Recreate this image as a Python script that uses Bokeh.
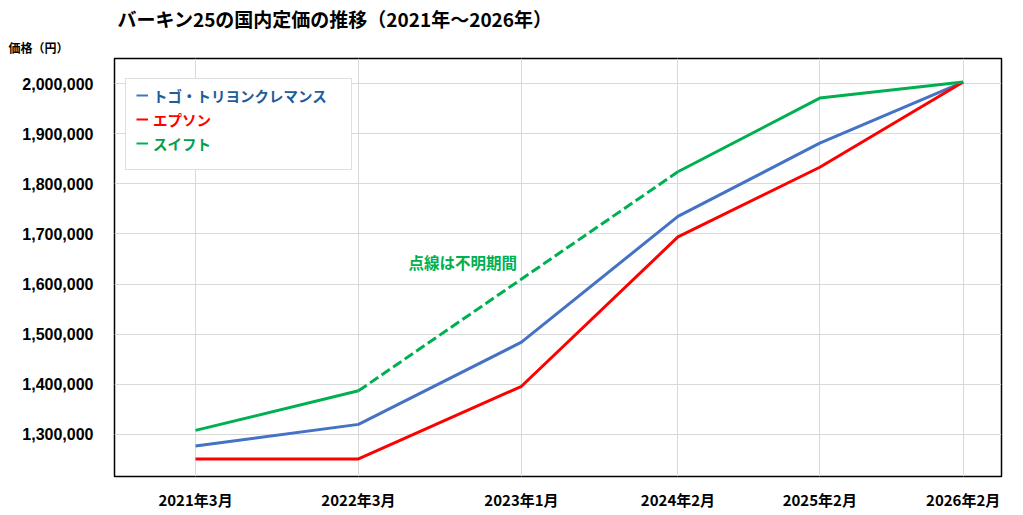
import math
from bokeh.plotting import figure
from bokeh.models import (FixedTicker, NumeralTickFormatter, Legend, LegendItem,
                          Label, Title, Range1d)
from bokeh.embed import file_html
from bokeh.resources import INLINE

# ---------------- data ----------------
periods = ["2021年3月", "2022年3月", "2023年1月", "2024年2月", "2025年2月", "2026年2月"]
period_pos = [0.0, 1.0, 2.0, 2.96, 3.83, 4.71]
togo = [1277000, 1320000, 1484000, 1735000, 1881000, 2003000]
epsom = [1251000, 1251000, 1396000, 1694000, 1833000, 2003000]
swift = [1308000, 1387000, None, 1824000, 1971000, 2003000]
series_names = ["トゴ・トリヨンクレマンス", "エプソン", "スイフト"]
y_ticks = [1300000, 1400000, 1500000, 1600000, 1700000, 1800000, 1900000, 2000000]
title_text = "バーキン25の国内定価の推移（2021年～2026年）"
y_label_text = "価格（円）"
note_text = "点線は不明期間"

JP = "Noto Sans CJK JP"
C_TOGO, C_EPSOM, C_SWIFT = "#4472C4", "#FF0000", "#00B050"

p = figure(width=1023, height=515, output_backend="svg", toolbar_location=None,
           x_range=Range1d(-0.497, 4.945), y_range=Range1d(1216000, 2050000),
           min_border_left=114, min_border_right=22, min_border_bottom=39,
           min_border_top=0)
p.background_fill_color = "white"
p.border_fill_color = "white"
p.outline_line_color = "black"
p.outline_line_width = 1.5

# titles (first added sits closest to the frame)
p.add_layout(Title(text=y_label_text, align="left", offset=-106, standoff=5,
                   text_font=JP, text_font_size="12px", text_font_style="bold",
                   text_color="black"), "above")
p.add_layout(Title(text=title_text, align="left", offset=3, standoff=5,
                   text_font=JP, text_font_size="19px", text_font_style="bold",
                   text_color="black"), "above")

# grid
p.xgrid.ticker = FixedTicker(ticks=period_pos)
p.ygrid.ticker = FixedTicker(ticks=y_ticks)
p.xgrid.grid_line_color = "#D9D9D9"
p.ygrid.grid_line_color = "#D9D9D9"

# axes
xa = p.xaxis[0]
xa.ticker = FixedTicker(ticks=period_pos)
xa.major_label_overrides = {pos: lab for pos, lab in zip(period_pos, periods)}
xa.axis_line_color = None
xa.major_tick_out = 0
xa.major_tick_in = 0
xa.minor_tick_out = 0
xa.minor_tick_in = 0
xa.major_label_standoff = 12
xa.major_label_text_font = JP
xa.major_label_text_font_size = "15px"
xa.major_label_text_font_style = "bold"
xa.major_label_text_color = "black"

ya = p.yaxis[0]
ya.ticker = FixedTicker(ticks=y_ticks)
ya.formatter = NumeralTickFormatter(format="0,0")
ya.axis_line_color = None
ya.major_tick_out = 0
ya.major_tick_in = 0
ya.minor_tick_out = 0
ya.minor_tick_in = 0
ya.major_label_standoff = 21
ya.major_label_text_font = "Liberation Sans"
ya.major_label_text_font_size = "16px"
ya.major_label_text_font_style = "bold"
ya.major_label_text_color = "black"

# lines
r_togo = p.line(period_pos, togo, line_color=C_TOGO, line_width=3, line_join="round")
r_epsom = p.line(period_pos, epsom, line_color=C_EPSOM, line_width=3, line_join="round")
swift_solid = [math.nan if v is None else v for v in swift]
r_swift = p.line(period_pos, swift_solid, line_color=C_SWIFT, line_width=3, line_join="round")

# dashed connection across unknown period(s)
i = 0
while i < len(swift):
    if swift[i] is None:
        j = i
        while j < len(swift) and swift[j] is None:
            j += 1
        a, b = i - 1, j
        p.line([period_pos[a], period_pos[b]], [swift[a], swift[b]],
               line_color=C_SWIFT, line_width=3, line_dash="10 4")
        i = j
    else:
        i += 1

p.add_layout(Label(x=1.64, y=1644000, text=note_text, text_align="center",
                   text_baseline="middle", text_font=JP, text_font_size="15.5px",
                   text_font_style="bold", text_color=C_SWIFT))

# legend box (an empty frame)
dummy = p.line(x=[0, 0], y=[0, 0], line_alpha=0)
box = Legend(items=[LegendItem(label=" ", renderers=[dummy])],
             location=(11, 306), orientation="vertical", padding=0, margin=0,
             spacing=0, label_height=90, glyph_height=90, glyph_width=205,
             label_standoff=0, label_text_font_size="4px", label_text_alpha=0,
             border_line_color="#BFBFBF", border_line_width=1,
             background_fill_color="white", background_fill_alpha=1)
p.add_layout(box)

# one coloured entry per series (legend keys are drawn thinner, as in the reference)
legend_text_colors = ["#1F5C9A", "#FF0000", "#00A050"]
for k, (name, col) in enumerate(zip(series_names, [C_TOGO, C_EPSOM, C_SWIFT])):
    key = p.line(x=[0, 0], y=[0, 0], line_color=col, line_width=2)  # off-range, key only
    lg = Legend(items=[LegendItem(label=name, renderers=[key])],
                location=(22, 369 - 24 * k), orientation="vertical", padding=0,
                margin=0, spacing=0, label_height=24, glyph_height=24,
                glyph_width=12, label_standoff=5, label_text_font=JP,
                label_text_font_size="14.5px", label_text_font_style="bold",
                label_text_color=legend_text_colors[k], border_line_color=None,
                background_fill_alpha=0)
    p.add_layout(lg)

open("out.html", "w").write(file_html(p, INLINE))
